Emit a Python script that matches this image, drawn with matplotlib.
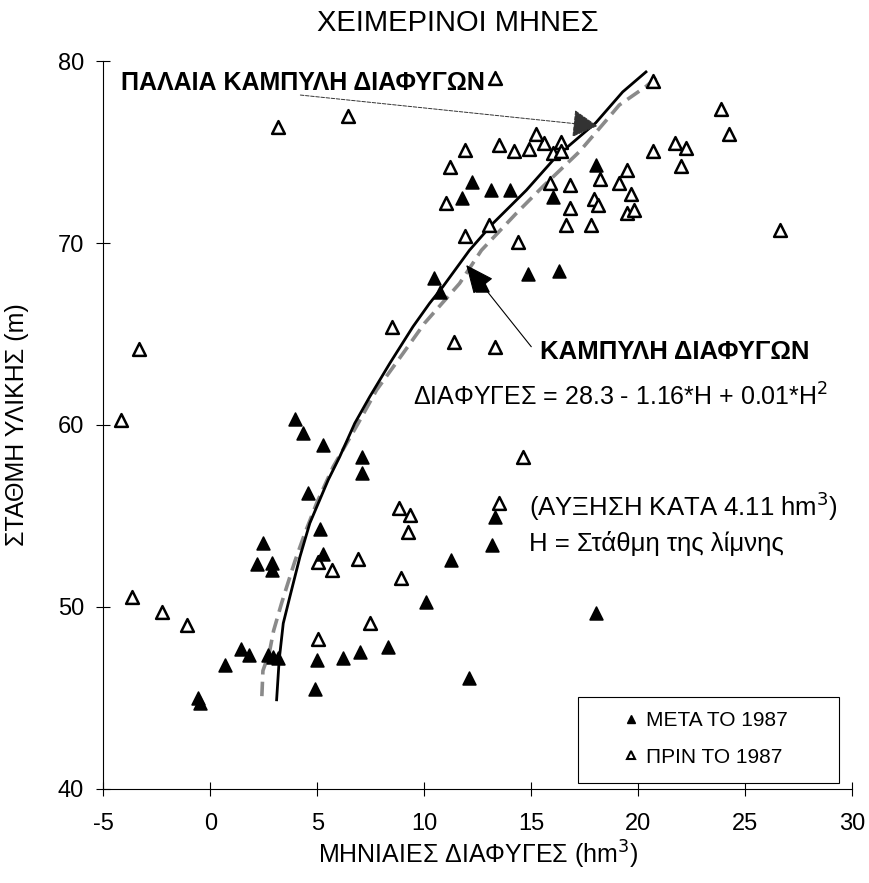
import matplotlib
matplotlib.use("Agg")
import matplotlib.pyplot as plt
from matplotlib.lines import Line2D
from matplotlib.patches import Rectangle

plt.rcParams['font.family'] = ['Liberation Sans', 'DejaVu Sans']
plt.rcParams['axes.unicode_minus'] = False

# ΠΡΙΝ ΤΟ 1987 (open triangles)
before_x = [13.3, 3.16, 6.42, 23.85, 24.24, 26.6, 22.2, 22.0, 20.7, 21.7,
            19.47, 19.1, 18.2, 19.65, 19.47, 19.8, 17.9, 18.1, 16.8, 16.8,
            16.6, 17.8, 15.85, 15.6, 16.4, 16.0, 16.4, 15.2, 14.9, 14.18,
            13.46, 11.88, 11.2, 11.0, 11.88, 13.0, 14.36, 20.7, 8.5, 11.4,
            13.28, 14.6, 13.5, 8.8, 9.33, 9.22, 8.92, 7.47, 5.03, 5.03,
            5.7, 6.9, -3.32, -4.18, -3.65, -2.25, -1.11]
before_y = [79.06, 76.4, 77.0, 77.35, 76.0, 70.7, 75.2, 74.25, 75.05, 75.5,
            74.0, 73.3, 73.5, 72.7, 71.67, 71.8, 72.4, 72.1, 73.2, 71.9,
            71.0, 71.0, 73.3, 75.5, 75.57, 74.96, 75.05, 75.97, 75.15, 75.07,
            75.4, 75.1, 74.2, 72.2, 70.4, 71.0, 70.07, 78.9, 65.4, 64.58,
            64.3, 58.26, 55.7, 55.46, 55.05, 54.1, 51.58, 49.14, 48.22, 52.49,
            52.03, 52.64, 64.16, 60.27, 50.57, 49.74, 49.0]

# ΜΕΤΑ ΤΟ 1987 (filled triangles)
after_x = [18.0, 16.0, 16.3, 12.23, 11.77, 13.09, 13.98, 10.44, 10.71, 12.7,
           14.83, 13.28, 13.17, 11.25, 10.09, 18.0, 12.1, 3.94, 4.33, 5.26,
           7.1, 7.1, 4.56, 5.11, 2.44, 2.16, 2.89, 2.89, 5.26, 1.41,
           1.81, 0.68, 2.7, 2.93, 3.16, 4.96, 6.17, 7.0, 8.3, 4.88,
           -0.57, -0.49]
after_y = [74.3, 72.55, 68.46, 73.37, 72.45, 72.9, 72.9, 68.06, 67.3, 67.7,
           68.28, 54.96, 53.4, 52.58, 50.3, 49.65, 46.1, 60.31, 59.54, 58.9,
           58.26, 57.38, 56.25, 54.27, 53.53, 52.36, 52.4, 52.03, 52.9, 47.68,
           47.36, 46.81, 47.36, 47.27, 47.18, 47.09, 47.22, 47.55, 47.8, 45.48,
           44.98, 44.74]

# solid curve
solid_x = [3.09, 3.21, 3.4, 3.71, 4.18, 4.64, 5.5, 6.04, 6.74, 7.44, 8.38,
           9.46, 10.24, 10.86, 12.1, 13.2, 14.76, 16.15, 18.0, 19.26, 20.35]
solid_h = [44.9, 47.1, 49.1, 50.57, 52.76, 54.6, 56.98, 58.26, 60.09, 61.55, 63.39,
           65.4, 66.69, 67.6, 69.6, 71.08, 72.9, 74.74, 76.6, 78.3, 79.4]

# hatched curve
hatch_x = [2.4, 2.45, 2.75, 2.95, 3.32, 3.56, 3.94, 4.41, 4.96, 5.73, 6.9, 7.76,
           9.0, 10.0, 11.64, 12.66, 14.29, 15.53, 17.24, 18.64, 19.1, 20.35, 20.97]
hatch_h = [45.1, 46.5, 47.5, 48.7, 50.2, 51.1, 52.5, 54.05, 55.7, 57.7, 60.09, 61.92,
           63.94, 65.59, 67.78, 69.6, 71.63, 73.1, 75.02, 76.94, 77.58, 78.6, 79.23]

fig = plt.figure(figsize=(8.69, 8.83), dpi=100)
ax = fig.add_axes([0.1191, 0.1065, 0.8619, 0.8244])

ax.plot(hatch_x, hatch_h, color='#8a8a8a', lw=2.6, linestyle=(0, (4, 2)), zorder=2)
ax.plot(solid_x, solid_h, color='black', lw=2.0, zorder=3)

ax.scatter(before_x, before_y, marker='^', s=85, facecolors='white',
           edgecolors='black', linewidths=1.8, zorder=4)
ax.scatter(after_x, after_y, marker='^', s=85, facecolors='black',
           edgecolors='black', linewidths=1.2, zorder=5)

ax.set_xlim(-5, 30)
ax.set_ylim(40, 80)
ax.set_xticks(range(-5, 31, 5))
ax.set_yticks(range(40, 81, 10))
ax.spines['top'].set_visible(False)
ax.spines['right'].set_visible(False)
ax.spines['left'].set_linewidth(0.8)
ax.spines['bottom'].set_linewidth(0.8)
ax.tick_params(direction='inout', length=10, width=0.8, labelsize=17)
ax.tick_params(axis='x', pad=12)
ax.tick_params(axis='y', pad=9)

ax.set_xlabel('ΜΗΝΙΑΙΕΣ ΔΙΑΦΥΓΕΣ (hm$^3$)', fontsize=18)
ax.set_ylabel('ΣΤΑΘΜΗ ΥΛΙΚΗΣ (m)', fontsize=18)
ax.xaxis.set_label_coords(0.5, -0.068)
ax.yaxis.set_label_coords(-0.1, 0.5)
fig.text(0.527, 0.974, 'ΧΕΙΜΕΡΙΝΟΙ ΜΗΝΕΣ', ha='center', va='center', fontsize=21)

# annotations
ax.text(-4.2, 78.8, 'ΠΑΛΑΙΑ ΚΑΜΠΥΛΗ ΔΙΑΦΥΓΩΝ', fontsize=18, fontweight='bold',
        va='center', ha='left')
ax.annotate('', xy=(18.08, 76.43), xytext=(4.2, 78.13),
            arrowprops=dict(arrowstyle='-|>,head_length=1.6,head_width=0.9',
                            mutation_scale=10, lw=0.7, linestyle='--',
                            color='#333333', shrinkA=0, shrinkB=0))
ax.text(15.38, 64.0, 'ΚΑΜΠΥΛΗ ΔΙΑΦΥΓΩΝ', fontsize=18.5, fontweight='bold',
        va='center', ha='left')
ax.annotate('', xy=(11.95, 68.79), xytext=(14.99, 64.3),
            arrowprops=dict(arrowstyle='-|>,head_length=1.8,head_width=0.8',
                            mutation_scale=10, lw=0.8, color='black',
                            shrinkA=0, shrinkB=0))
ax.text(9.45, 61.54, 'ΔΙΑΦΥΓΕΣ = 28.3 - 1.16*Η + 0.01*Η$^2$', fontsize=18,
        va='center', ha='left')
ax.text(14.9, 55.55, '(ΑΥΞΗΣΗ ΚΑΤΑ 4.11 hm$^3$)', fontsize=18.5, va='center', ha='left')
ax.text(14.9, 53.5, 'Η = Στάθμη της λίμνης', fontsize=18.5, va='center', ha='left')

# legend box
ax.add_patch(Rectangle((0.633, 0.008), 0.349, 0.119, transform=ax.transAxes,
                       facecolor='white', edgecolor='black', lw=0.8, zorder=6))
handles = [Line2D([], [], marker='^', ls='none', color='black', markersize=6),
           Line2D([], [], marker='^', ls='none', markerfacecolor='white',
                  markeredgecolor='black', markeredgewidth=1.5, markersize=6)]
ax.legend(handles, ['ΜΕΤΑ ΤΟ 1987', 'ΠΡΙΝ ΤΟ 1987'], loc='center left',
          bbox_to_anchor=(0.696, 0.069), frameon=False, fontsize=15,
          borderpad=0, borderaxespad=0, handlelength=0.6, handletextpad=0.4,
          labelspacing=0.85).set_zorder(7)

fig.savefig('out.png', dpi=100)
